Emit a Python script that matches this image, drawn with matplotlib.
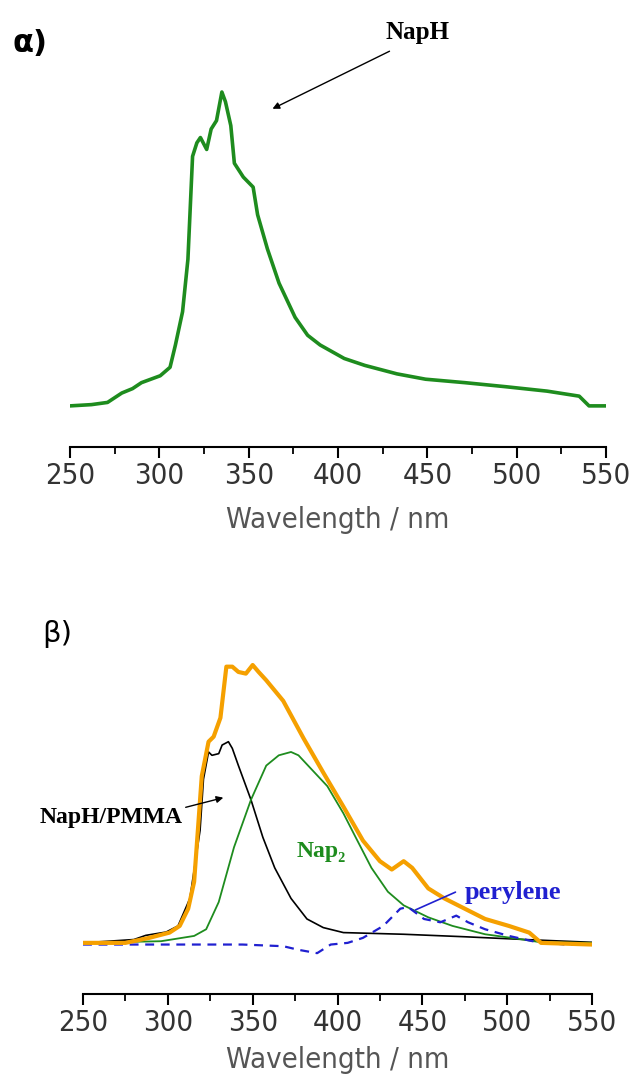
import matplotlib.pyplot as plt
from matplotlib.ticker import MultipleLocator
from matplotlib import font_manager

# (a) NapH emission
wl_a = [250, 262, 271, 279, 285, 290, 300.5, 306, 309, 313, 316, 318.6, 321, 323, 326.5, 329,
        332, 335, 337, 340, 342, 347, 352.5, 355, 360.5, 367, 376, 383, 390, 403.5, 415, 433,
        449, 471, 494, 517, 535, 540.5, 550]
napH = [0, 0.004, 0.011, 0.041, 0.055, 0.074, 0.096, 0.123, 0.194, 0.30, 0.467, 0.795, 0.838,
        0.855, 0.817, 0.882, 0.909, 1.0, 0.969, 0.893, 0.773, 0.729, 0.697, 0.609, 0.5, 0.391,
        0.282, 0.225, 0.194, 0.151, 0.129, 0.102, 0.085, 0.074, 0.061, 0.047, 0.031, 0, 0]

# (b) total and components
wl_tot = [250, 275, 289, 301, 307, 312, 315.5, 318, 320, 324, 327, 331, 334.5, 338, 341.6, 346,
          350, 353.5, 358, 368, 380, 391.6, 403.5, 415, 425, 432, 439, 444, 453.5, 463, 475, 487,
          501, 513, 520, 550]
total = [0, 0, 0.018, 0.037, 0.061, 0.123, 0.22, 0.43, 0.60, 0.724, 0.742, 0.81, 0.994, 0.994,
         0.975, 0.969, 1.0, 0.975, 0.945, 0.871, 0.736, 0.613, 0.49, 0.368, 0.294, 0.264, 0.294,
         0.27, 0.196, 0.16, 0.123, 0.086, 0.061, 0.037, 0, -0.006]

wl_pmma = [250, 280, 287, 299, 306, 313, 319, 321, 324, 326, 330, 332, 335.7, 338, 341.6, 349,
           356, 363, 372.6, 382, 391.6, 403.5, 439, 475, 510.6, 550]
pmma = [0, 0.012, 0.027, 0.039, 0.061, 0.16, 0.405, 0.589, 0.687, 0.675, 0.681, 0.712, 0.724,
        0.70, 0.638, 0.515, 0.38, 0.27, 0.16, 0.086, 0.055, 0.037, 0.031, 0.022, 0.012, 0.002]

wl_nap2 = [250, 296, 315.5, 322.6, 330, 339, 349, 358, 365.4, 372.6, 377, 384.5, 394, 403.5,
           410.7, 420, 429.7, 439, 453.5, 467.8, 487, 506, 520, 550]
nap2 = [0, 0.006, 0.025, 0.049, 0.147, 0.344, 0.515, 0.638, 0.675, 0.687, 0.675, 0.626, 0.564,
        0.466, 0.38, 0.27, 0.184, 0.135, 0.092, 0.061, 0.031, 0.015, 0.002, 0]

wl_per = [250, 344, 368, 377, 388, 396, 406, 415, 427, 437, 441.6, 451, 460.6, 470, 477, 487,
          501, 515, 534, 550]
perylene = [-0.006, -0.006, -0.012, -0.025, -0.037, -0.006, 0, 0.018, 0.061, 0.123, 0.129,
            0.086, 0.074, 0.098, 0.074, 0.049, 0.025, 0.006, -0.006, -0.006]

# narrow axis font if a condensed face is around
condensed = any('Condensed' in f.fname and f.name == 'DejaVu Sans'
                for f in font_manager.fontManager.ttflist)
tick_size = 21 if condensed else 18
stretch = 'condensed' if condensed else 'normal'
serif = ['Liberation Serif', 'DejaVu Serif']

W, H = 634, 1075
fig = plt.figure(figsize=(W / 100, H / 100), dpi=100)


def fp(x, y):
    return (x / W, 1 - y / H)


def style_axis(ax, lpad):
    for s in ['left', 'right', 'top']:
        ax.spines[s].set_visible(False)
    ax.spines['bottom'].set_linewidth(1.5)
    ax.set_yticks([])
    ax.set_xlim(250, 550)
    ax.xaxis.set_major_locator(MultipleLocator(50))
    ax.xaxis.set_minor_locator(MultipleLocator(25))
    ax.tick_params(axis='x', which='major', length=8, width=1.5, direction='out',
                   labelsize=tick_size, labelcolor='#333333', pad=3)
    ax.tick_params(axis='x', which='minor', length=5, width=1.3, direction='out')
    for lab in ax.get_xticklabels():
        lab.set_fontstretch(stretch)
    ax.set_xlabel('Wavelength / nm', fontsize=tick_size, color='#555555',
                  labelpad=lpad, fontstretch=stretch)


# top panel
ax1 = fig.add_axes([70 / W, 1 - 447 / H, 536 / W, 387 / H])
ax1.plot(wl_a, napH, color='#1e8c1e', lw=2.6)
ax1.set_ylim(-0.131, 1.102)
style_axis(ax1, 11)

# bottom panel
ax2 = fig.add_axes([83 / W, 1 - 994 / H, 509 / W, 354 / H])
ax2.plot(wl_pmma, pmma, color='black', lw=1.2)
ax2.plot(wl_nap2, nap2, color='#1e8c1e', lw=1.3)
ax2.plot(wl_per, perylene, color='#2020d0', lw=1.6, ls=(0, (4, 3)))
ax2.plot(wl_tot, total, color='#f5a000', lw=3)
ax2.set_ylim(-0.184, 1.09)
style_axis(ax2, 6)

fig.text(*fp(12, 44), 'α)', fontsize=22, fontweight='bold', va='center', ha='left')
fig.text(*fp(42, 634), 'β)', fontsize=21, va='center', ha='left')

fig.text(*fp(417, 32), 'NapH', fontsize=18, fontweight='bold', family=serif,
         va='center', ha='center')
ax1.annotate('', xy=fp(270, 110), xycoords='figure fraction',
             xytext=fp(392, 50), textcoords='figure fraction',
             arrowprops=dict(arrowstyle='-|>', color='black', lw=1, mutation_scale=10))

fig.text(*fp(40, 818), 'NapH/PMMA', fontsize=17, fontweight='bold', family=serif,
         va='center', ha='left')
ax2.annotate('', xy=fp(226, 797), xycoords='figure fraction',
             xytext=fp(183, 808), textcoords='figure fraction',
             arrowprops=dict(arrowstyle='-|>', color='black', lw=1, mutation_scale=10))

fig.text(*fp(297, 852), 'Nap₂', fontsize=17, fontweight='bold', family=serif,
         color='#1e8c1e', va='center', ha='left')

fig.text(*fp(465, 893), 'perylene', fontsize=19, fontweight='bold', family=serif,
         color='#2020d0', va='center', ha='left')
ax2.annotate('', xy=fp(413, 911), xycoords='figure fraction',
             xytext=fp(458, 891), textcoords='figure fraction',
             arrowprops=dict(arrowstyle='-', color='#2020d0', lw=1.2))

fig.savefig('out.png', dpi=100)
